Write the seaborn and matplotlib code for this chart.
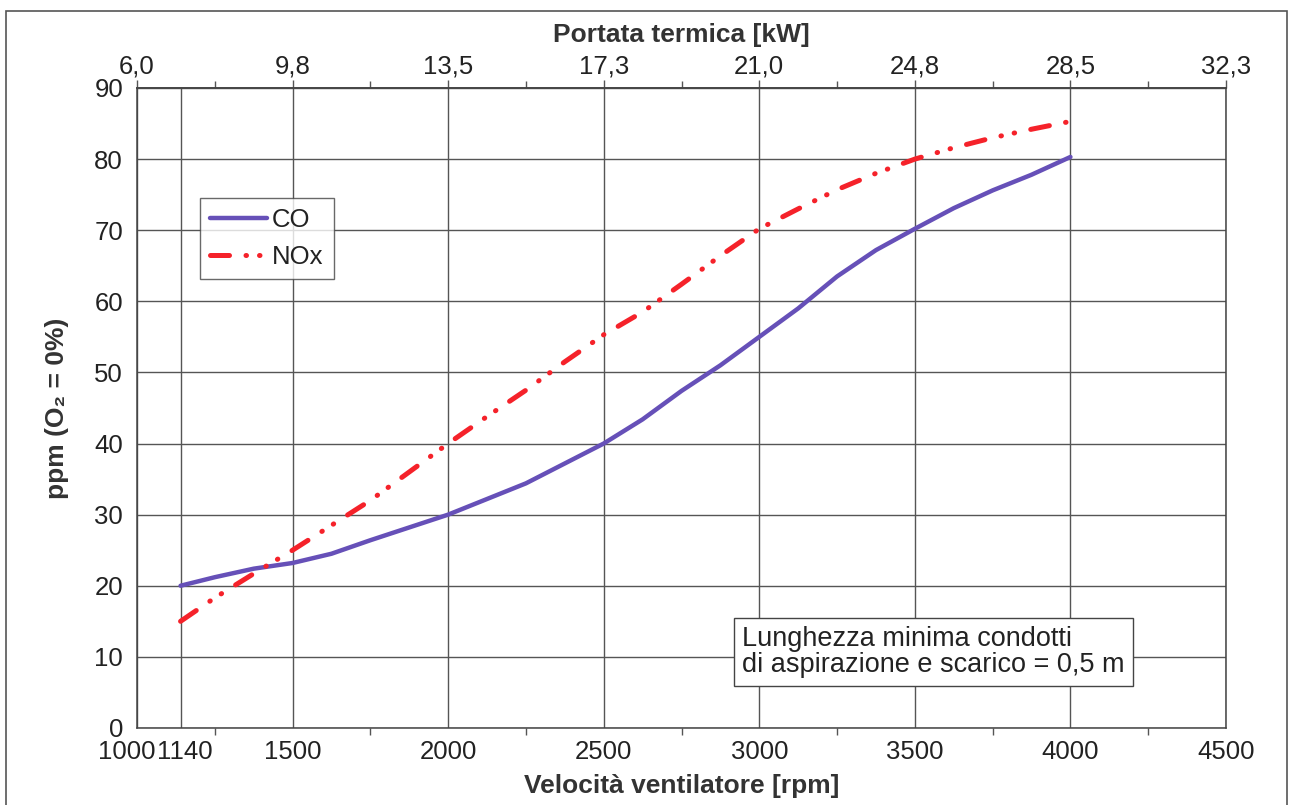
import numpy as np
import pandas as pd
import seaborn as sns
import matplotlib.pyplot as plt
from matplotlib.ticker import FixedLocator
from matplotlib.patches import Rectangle
from matplotlib.transforms import ScaledTranslation

# data
rpm = [1140, 1250, 1375, 1500, 1625, 1750, 1875, 2000, 2125, 2250, 2375, 2500,
       2625, 2750, 2875, 3000, 3125, 3250, 3375, 3500, 3625, 3750, 3875, 4000]
co = [20.0, 21.2, 22.4, 23.2, 24.5, 26.4, 28.2, 30.0, 32.2, 34.4, 37.2, 40.0,
      43.4, 47.4, 51.0, 55.0, 59.0, 63.5, 67.2, 70.2, 73.1, 75.6, 77.8, 80.3]
nox = [15.0, 18.3, 21.7, 25.0, 28.5, 32.0, 36.0, 40.0, 43.8, 47.5, 51.5, 55.3,
       58.5, 62.4, 66.4, 70.2, 73.0, 75.7, 78.0, 80.0, 81.6, 83.0, 84.2, 85.3]

x_ticks = [1000, 1140, 1500, 2000, 2500, 3000, 3500, 4000, 4500]
x_minor = [1250, 1750, 2250, 2750, 3250, 3750, 4250]
top_pos = [1000, 1500, 2000, 2500, 3000, 3500, 4000, 4500]
top_labels = ["6,0", "9,8", "13,5", "17,3", "21,0", "24,8", "28,5", "32,3"]
y_ticks = [0, 10, 20, 30, 40, 50, 60, 70, 80, 90]

df = pd.DataFrame({"rpm": rpm, "CO": co, "NOx": nox})

sns.set_theme(style="white")
plt.rcParams['font.family'] = ['Liberation Sans', 'DejaVu Sans']
plt.rcParams['font.size'] = 18

fig = plt.figure(figsize=(12.9, 8.05), dpi=100)
ax = fig.add_axes([0.1062, 0.0957, 0.8442, 0.795])

sns.lineplot(data=df, x="rpm", y="CO", ax=ax, color="#6650b8", lw=3.2, label="CO")
sns.lineplot(data=df, x="rpm", y="NOx", ax=ax, color="#f5222a", lw=3.6, label="NOx",
             linestyle=(0, (3.8, 3.3, 0.1, 2.6, 0.1, 3.3)))
for ln in ax.get_lines():
    ln.set_dash_capstyle("round")
    ln.set_solid_capstyle("round")

ax.set_xlim(1000, 4500)
ax.set_ylim(0, 90)
ax.set_xticks(x_ticks)
ax.set_xticklabels([str(v) for v in x_ticks])
ax.xaxis.set_minor_locator(FixedLocator(x_minor))
ax.set_yticks(y_ticks)
ax.grid(True, which="major", color="#555555", lw=1)
for s in ax.spines.values():
    s.set_color("#444444")
    s.set_linewidth(1.1)
ax.tick_params(axis="x", which="major", direction="out", length=5, width=1,
               color="#555555", labelsize=18.5, pad=4, colors="#222222")
ax.tick_params(axis="x", which="minor", direction="out", length=5, width=1,
               color="#555555", bottom=True)
ax.tick_params(axis="y", direction="out", length=8, width=1, color="#555555",
               labelsize=18.5, pad=2, colors="#222222")

# the two first labels run together in the reference ("10001140")
xl = ax.get_xticklabels()
xl[0].set_transform(xl[0].get_transform() + ScaledTranslation(-0.10, 0, fig.dpi_scale_trans))
xl[1].set_transform(xl[1].get_transform() + ScaledTranslation(0.04, 0, fig.dpi_scale_trans))

ax.set_xlabel("Velocità ventilatore [rpm]", fontsize=19, fontweight="bold",
              color="#333333", labelpad=7)
ax.set_ylabel("ppm (O₂ = 0%)", fontsize=19, fontweight="bold",
              color="#333333", labelpad=18)

secax = ax.secondary_xaxis("top")
secax.set_xticks(top_pos, labels=top_labels)
secax.xaxis.set_minor_locator(FixedLocator(x_minor))
secax.tick_params(axis="x", which="major", direction="out", length=6, width=1,
                  color="#555555", labelsize=18.5, pad=1, colors="#222222")
secax.tick_params(axis="x", which="minor", direction="out", length=5, width=1,
                  color="#555555")
secax.spines["top"].set_color("#444444")
secax.set_xlabel("Portata termica [kW]", fontsize=19, fontweight="bold",
                 color="#333333", labelpad=9)

leg = ax.legend(loc="upper left", bbox_to_anchor=(0.058, 0.828), fontsize=18.5,
                frameon=True, fancybox=False, handlelength=2.2, handletextpad=0.2,
                borderpad=0.4, labelspacing=0.5, borderaxespad=0)
leg.get_frame().set_edgecolor("#444444")
leg.get_frame().set_linewidth(1)
for t in leg.get_texts():
    t.set_color("#222222")

ax.text(0.556, 0.078, "Lunghezza minima condotti\ndi aspirazione e scarico = 0,5 m",
        transform=ax.transAxes, ha="left", va="bottom", fontsize=19.5,
        color="#222222", linespacing=0.98,
        bbox=dict(boxstyle="square,pad=0.3", fc="white", ec="#444444", lw=1))

fig.patches.append(Rectangle((6 / 1290, -0.02), 1281 / 1290, 1 - 11 / 805 + 0.02,
                             transform=fig.transFigure, fill=False,
                             ec="#555555", lw=1.2))

plt.savefig("out.png", dpi=100)
